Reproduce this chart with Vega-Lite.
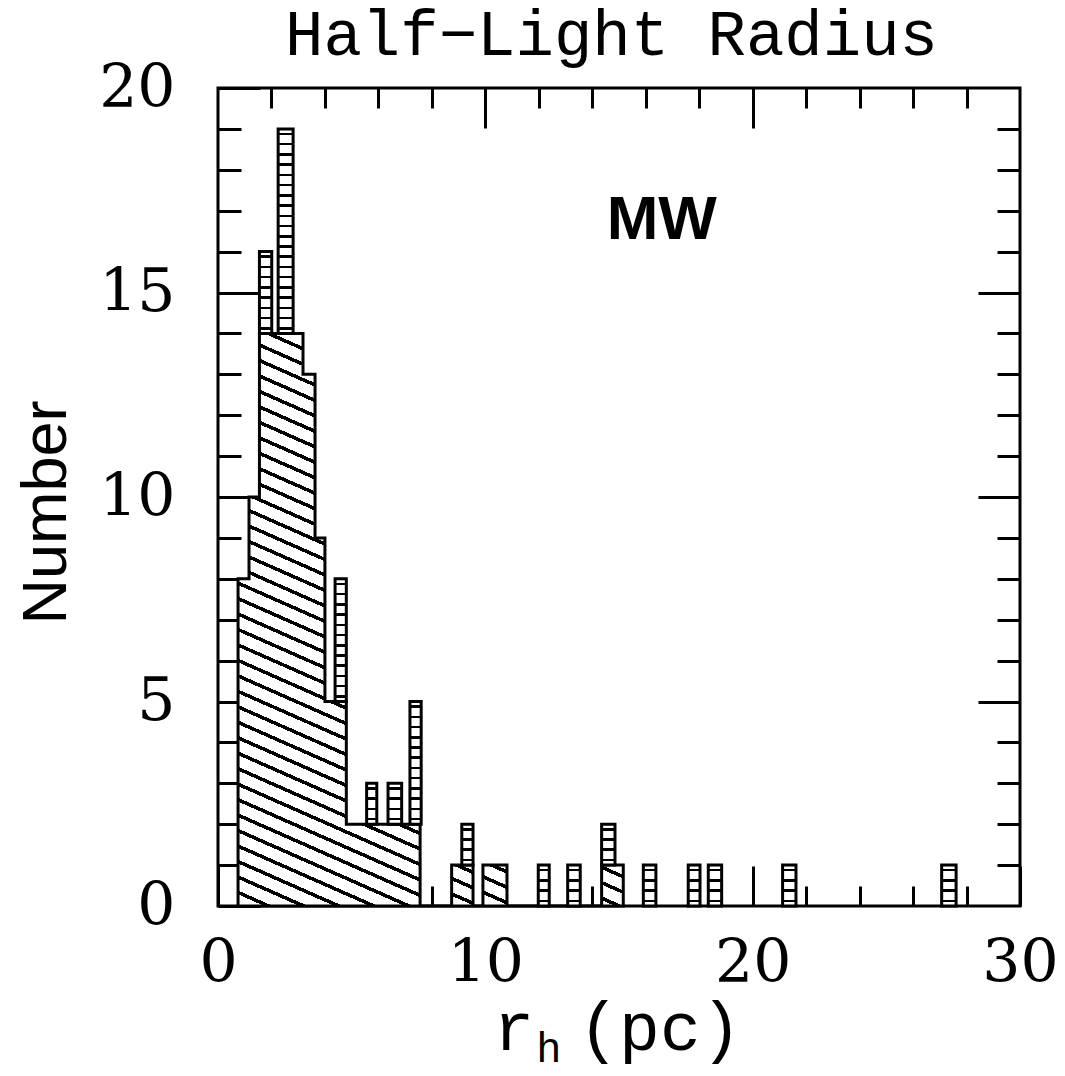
{
"$schema": "https://vega.github.io/schema/vega-lite/v6.json",
"width": 802, "height": 818,
"autosize": {"type": "none"},
"padding": {"left": 218, "top": 88, "right": 45, "bottom": 170},
"background": "white",
"config": {"view": {"stroke": "black", "strokeWidth": 3}, "axis": {"grid": false, "domain": false, "tickColor": "black", "tickWidth": 3, "labelColor": "black", "titleColor": "black", "labelFlush": false, "labelOverlap": false, "labelBound": false}},
"datasets": {
"diag": [
{"edge": 0.75, "n": 8}, {"edge": 1.16, "n": 10}, {"edge": 1.55, "n": 14}, {"edge": 3.18, "n": 13}, {"edge": 3.63, "n": 9}, {"edge": 4.0, "n": 5}, {"edge": 4.8, "n": 2}, {"edge": 7.56, "n": 0}, {"edge": 8.74, "n": 1}, {"edge": 9.54, "n": 0}, {"edge": 9.91, "n": 1}, {"edge": 10.81, "n": 0}, {"edge": 14.35, "n": 1}, {"edge": 15.16, "n": 0}
],
"ladder": [
{"x0": 1.55, "x1": 2.01, "lo": 14, "hi": 16},
{"x0": 2.25, "x1": 2.81, "lo": 14, "hi": 19},
{"x0": 4.38, "x1": 4.8, "lo": 5, "hi": 8},
{"x0": 5.56, "x1": 5.94, "lo": 2, "hi": 3},
{"x0": 6.36, "x1": 6.87, "lo": 2, "hi": 3},
{"x0": 7.18, "x1": 7.6, "lo": 2, "hi": 5},
{"x0": 9.12, "x1": 9.54, "lo": 1, "hi": 2},
{"x0": 11.98, "x1": 12.39, "lo": 0, "hi": 1},
{"x0": 13.08, "x1": 13.55, "lo": 0, "hi": 1},
{"x0": 14.35, "x1": 14.85, "lo": 1, "hi": 2},
{"x0": 15.91, "x1": 16.38, "lo": 0, "hi": 1},
{"x0": 17.59, "x1": 18.03, "lo": 0, "hi": 1},
{"x0": 18.34, "x1": 18.84, "lo": 0, "hi": 1},
{"x0": 21.12, "x1": 21.62, "lo": 0, "hi": 1},
{"x0": 27.07, "x1": 27.61, "lo": 0, "hi": 1}
],
"labels": [
{"label": "Half−Light Radius", "px": 14.72, "py": 20.81, "size": "title"},
{"label": "r", "px": 11.07, "py": -3.52, "size": "axis"},
{"label": "(pc)", "px": 16.53, "py": -3.52, "size": "axis"}
]
},
"resolve": {"axis": {"x": "independent", "y": "independent"}},
"layer": [
{
"data": {"name": "diag"},
"mark": {"type": "area", "interpolate": "step-after", "stroke": "black", "strokeWidth": 3, "fill": {"gradient": "linear", "x1": 1, "y1": 0, "x2": 0.6463, "y2": 1.1918, "stops": [
{"offset":0,"color":"#000"},{"offset":0.005208,"color":"#000"},{"offset":0.005208,"color":"#fff"},
{"offset":0.020833,"color":"#fff"},{"offset":0.020833,"color":"#000"},{"offset":0.026041,"color":"#000"},{"offset":0.026041,"color":"#fff"},
{"offset":0.041667,"color":"#fff"},{"offset":0.041667,"color":"#000"},{"offset":0.046875,"color":"#000"},{"offset":0.046875,"color":"#fff"},
{"offset":0.0625,"color":"#fff"},{"offset":0.0625,"color":"#000"},{"offset":0.067708,"color":"#000"},{"offset":0.067708,"color":"#fff"},
{"offset":0.083333,"color":"#fff"},{"offset":0.083333,"color":"#000"},{"offset":0.088541,"color":"#000"},{"offset":0.088541,"color":"#fff"},
{"offset":0.104167,"color":"#fff"},{"offset":0.104167,"color":"#000"},{"offset":0.109375,"color":"#000"},{"offset":0.109375,"color":"#fff"},
{"offset":0.125,"color":"#fff"},{"offset":0.125,"color":"#000"},{"offset":0.130208,"color":"#000"},{"offset":0.130208,"color":"#fff"},
{"offset":0.145833,"color":"#fff"},{"offset":0.145833,"color":"#000"},{"offset":0.151041,"color":"#000"},{"offset":0.151041,"color":"#fff"},
{"offset":0.166667,"color":"#fff"},{"offset":0.166667,"color":"#000"},{"offset":0.171875,"color":"#000"},{"offset":0.171875,"color":"#fff"},
{"offset":0.1875,"color":"#fff"},{"offset":0.1875,"color":"#000"},{"offset":0.192708,"color":"#000"},{"offset":0.192708,"color":"#fff"},
{"offset":0.208333,"color":"#fff"},{"offset":0.208333,"color":"#000"},{"offset":0.213541,"color":"#000"},{"offset":0.213541,"color":"#fff"},
{"offset":0.229167,"color":"#fff"},{"offset":0.229167,"color":"#000"},{"offset":0.234375,"color":"#000"},{"offset":0.234375,"color":"#fff"},
{"offset":0.25,"color":"#fff"},{"offset":0.25,"color":"#000"},{"offset":0.255208,"color":"#000"},{"offset":0.255208,"color":"#fff"},
{"offset":0.270833,"color":"#fff"},{"offset":0.270833,"color":"#000"},{"offset":0.276041,"color":"#000"},{"offset":0.276041,"color":"#fff"},
{"offset":0.291667,"color":"#fff"},{"offset":0.291667,"color":"#000"},{"offset":0.296875,"color":"#000"},{"offset":0.296875,"color":"#fff"},
{"offset":0.3125,"color":"#fff"},{"offset":0.3125,"color":"#000"},{"offset":0.317708,"color":"#000"},{"offset":0.317708,"color":"#fff"},
{"offset":0.333333,"color":"#fff"},{"offset":0.333333,"color":"#000"},{"offset":0.338541,"color":"#000"},{"offset":0.338541,"color":"#fff"},
{"offset":0.354167,"color":"#fff"},{"offset":0.354167,"color":"#000"},{"offset":0.359375,"color":"#000"},{"offset":0.359375,"color":"#fff"},
{"offset":0.375,"color":"#fff"},{"offset":0.375,"color":"#000"},{"offset":0.380208,"color":"#000"},{"offset":0.380208,"color":"#fff"},
{"offset":0.395833,"color":"#fff"},{"offset":0.395833,"color":"#000"},{"offset":0.401041,"color":"#000"},{"offset":0.401041,"color":"#fff"},
{"offset":0.416667,"color":"#fff"},{"offset":0.416667,"color":"#000"},{"offset":0.421875,"color":"#000"},{"offset":0.421875,"color":"#fff"},
{"offset":0.4375,"color":"#fff"},{"offset":0.4375,"color":"#000"},{"offset":0.442708,"color":"#000"},{"offset":0.442708,"color":"#fff"},
{"offset":0.458333,"color":"#fff"},{"offset":0.458333,"color":"#000"},{"offset":0.463541,"color":"#000"},{"offset":0.463541,"color":"#fff"},
{"offset":0.479167,"color":"#fff"},{"offset":0.479167,"color":"#000"},{"offset":0.484375,"color":"#000"},{"offset":0.484375,"color":"#fff"},
{"offset":0.5,"color":"#fff"},{"offset":0.5,"color":"#000"},{"offset":0.505208,"color":"#000"},{"offset":0.505208,"color":"#fff"},
{"offset":0.520833,"color":"#fff"},{"offset":0.520833,"color":"#000"},{"offset":0.526041,"color":"#000"},{"offset":0.526041,"color":"#fff"},
{"offset":0.541667,"color":"#fff"},{"offset":0.541667,"color":"#000"},{"offset":0.546875,"color":"#000"},{"offset":0.546875,"color":"#fff"},
{"offset":0.5625,"color":"#fff"},{"offset":0.5625,"color":"#000"},{"offset":0.567708,"color":"#000"},{"offset":0.567708,"color":"#fff"},
{"offset":0.583333,"color":"#fff"},{"offset":0.583333,"color":"#000"},{"offset":0.588541,"color":"#000"},{"offset":0.588541,"color":"#fff"},
{"offset":0.604167,"color":"#fff"},{"offset":0.604167,"color":"#000"},{"offset":0.609375,"color":"#000"},{"offset":0.609375,"color":"#fff"},
{"offset":0.625,"color":"#fff"},{"offset":0.625,"color":"#000"},{"offset":0.630208,"color":"#000"},{"offset":0.630208,"color":"#fff"},
{"offset":0.645833,"color":"#fff"},{"offset":0.645833,"color":"#000"},{"offset":0.651041,"color":"#000"},{"offset":0.651041,"color":"#fff"},
{"offset":0.666667,"color":"#fff"},{"offset":0.666667,"color":"#000"},{"offset":0.671875,"color":"#000"},{"offset":0.671875,"color":"#fff"},
{"offset":0.6875,"color":"#fff"},{"offset":0.6875,"color":"#000"},{"offset":0.692708,"color":"#000"},{"offset":0.692708,"color":"#fff"},
{"offset":0.708333,"color":"#fff"},{"offset":0.708333,"color":"#000"},{"offset":0.713541,"color":"#000"},{"offset":0.713541,"color":"#fff"},
{"offset":0.729167,"color":"#fff"},{"offset":0.729167,"color":"#000"},{"offset":0.734375,"color":"#000"},{"offset":0.734375,"color":"#fff"},
{"offset":0.75,"color":"#fff"},{"offset":0.75,"color":"#000"},{"offset":0.755208,"color":"#000"},{"offset":0.755208,"color":"#fff"},
{"offset":0.770833,"color":"#fff"},{"offset":0.770833,"color":"#000"},{"offset":0.776041,"color":"#000"},{"offset":0.776041,"color":"#fff"},
{"offset":0.791667,"color":"#fff"},{"offset":0.791667,"color":"#000"},{"offset":0.796875,"color":"#000"},{"offset":0.796875,"color":"#fff"},
{"offset":0.8125,"color":"#fff"},{"offset":0.8125,"color":"#000"},{"offset":0.817708,"color":"#000"},{"offset":0.817708,"color":"#fff"},
{"offset":0.833333,"color":"#fff"},{"offset":0.833333,"color":"#000"},{"offset":0.838541,"color":"#000"},{"offset":0.838541,"color":"#fff"},
{"offset":0.854167,"color":"#fff"},{"offset":0.854167,"color":"#000"},{"offset":0.859375,"color":"#000"},{"offset":0.859375,"color":"#fff"},
{"offset":0.875,"color":"#fff"},{"offset":0.875,"color":"#000"},{"offset":0.880208,"color":"#000"},{"offset":0.880208,"color":"#fff"},
{"offset":0.895833,"color":"#fff"},{"offset":0.895833,"color":"#000"},{"offset":0.901041,"color":"#000"},{"offset":0.901041,"color":"#fff"},
{"offset":0.916667,"color":"#fff"},{"offset":0.916667,"color":"#000"},{"offset":0.921875,"color":"#000"},{"offset":0.921875,"color":"#fff"},
{"offset":0.9375,"color":"#fff"},{"offset":0.9375,"color":"#000"},{"offset":0.942708,"color":"#000"},{"offset":0.942708,"color":"#fff"},
{"offset":0.958333,"color":"#fff"},{"offset":0.958333,"color":"#000"},{"offset":0.963541,"color":"#000"},{"offset":0.963541,"color":"#fff"},
{"offset":0.979167,"color":"#fff"},{"offset":0.979167,"color":"#000"},{"offset":0.984375,"color":"#000"},{"offset":0.984375,"color":"#fff"},
{"offset":1,"color":"#fff"}
]}},
"encoding": {
"x": {"field": "edge", "type": "quantitative", "scale": {"domain": [0, 30], "nice": false, "zero": false},
 "axis": {"orient": "bottom", "values": [0, 10, 20, 30], "tickSize": -40, "labelFont": "DejaVu Serif", "labelFontSize": 60, "labelPadding": 68, "title": null}},
"y": {"field": "n", "type": "quantitative", "scale": {"domain": [0, 20], "nice": false},
 "axis": {"orient": "left", "values": [0, 5, 10, 15, 20], "tickSize": -42, "labelFont": "DejaVu Serif", "labelFontSize": 60, "labelPadding": 85,
  "title": "Number", "titleFont": "Liberation Sans", "titleFontSize": 63, "titleFontWeight": "normal", "titleAngle": -90, "titleBaseline": "alphabetic", "titleAlign": "center", "titleX": -153, "titleY": 424}}
}
},
{
"data": {"name": "ladder"},
"transform": [{"filter": "datum.hi - datum.lo == 1"}],
"mark": {"type": "bar", "stroke": "black", "strokeWidth": 3, "fill": {"gradient": "linear", "x1": 0, "y1": 0, "x2": 0, "y2": 1, "stops": [
{"offset":0,"color":"#fff"},
{"offset":0.09375,"color":"#fff"},{"offset":0.09375,"color":"#000"},{"offset":0.15625,"color":"#000"},{"offset":0.15625,"color":"#fff"},
{"offset":0.34375,"color":"#fff"},{"offset":0.34375,"color":"#000"},{"offset":0.40625,"color":"#000"},{"offset":0.40625,"color":"#fff"},
{"offset":0.59375,"color":"#fff"},{"offset":0.59375,"color":"#000"},{"offset":0.65625,"color":"#000"},{"offset":0.65625,"color":"#fff"},
{"offset":0.84375,"color":"#fff"},{"offset":0.84375,"color":"#000"},{"offset":0.90625,"color":"#000"},{"offset":0.90625,"color":"#fff"},
{"offset":1,"color":"#fff"}
]}},
"encoding": {
"x": {"field": "x0", "type": "quantitative", "scale": {"domain": [0, 30], "nice": false, "zero": false},
 "axis": {"orient": "bottom", "values": [2, 4, 6, 8, 12, 14, 16, 18, 22, 24, 26, 28], "tickSize": -20, "labels": false, "title": null}},
"x2": {"field": "x1"},
"y": {"field": "lo", "type": "quantitative", "scale": {"domain": [0, 20], "nice": false},
 "axis": {"orient": "left", "values": [1, 2, 3, 4, 6, 7, 8, 9, 11, 12, 13, 14, 16, 17, 18, 19], "tickSize": -23, "labels": false, "title": null}},
"y2": {"field": "hi"}
}
},
{
"data": {"name": "ladder"},
"transform": [{"filter": "datum.hi - datum.lo == 2"}],
"mark": {"type": "bar", "stroke": "black", "strokeWidth": 3, "fill": {"gradient": "linear", "x1": 0, "y1": 0, "x2": 0, "y2": 1, "stops": [
{"offset":0,"color":"#fff"},
{"offset":0.0472,"color":"#fff"},{"offset":0.0472,"color":"#000"},{"offset":0.0778,"color":"#000"},{"offset":0.0778,"color":"#fff"},
{"offset":0.1722,"color":"#fff"},{"offset":0.1722,"color":"#000"},{"offset":0.2028,"color":"#000"},{"offset":0.2028,"color":"#fff"},
{"offset":0.2972,"color":"#fff"},{"offset":0.2972,"color":"#000"},{"offset":0.3278,"color":"#000"},{"offset":0.3278,"color":"#fff"},
{"offset":0.4222,"color":"#fff"},{"offset":0.4222,"color":"#000"},{"offset":0.4528,"color":"#000"},{"offset":0.4528,"color":"#fff"},
{"offset":0.5472,"color":"#fff"},{"offset":0.5472,"color":"#000"},{"offset":0.5778,"color":"#000"},{"offset":0.5778,"color":"#fff"},
{"offset":0.6722,"color":"#fff"},{"offset":0.6722,"color":"#000"},{"offset":0.7028,"color":"#000"},{"offset":0.7028,"color":"#fff"},
{"offset":0.7972,"color":"#fff"},{"offset":0.7972,"color":"#000"},{"offset":0.8278,"color":"#000"},{"offset":0.8278,"color":"#fff"},
{"offset":0.9222,"color":"#fff"},{"offset":0.9222,"color":"#000"},{"offset":0.9528,"color":"#000"},{"offset":0.9528,"color":"#fff"},
{"offset":1,"color":"#fff"}
]}},
"encoding": {
"x": {"field": "x0", "type": "quantitative", "scale": {"domain": [0, 30], "nice": false, "zero": false},
 "axis": {"orient": "top", "values": [10, 20], "tickSize": -40, "labels": false, "title": null}},
"x2": {"field": "x1"},
"y": {"field": "lo", "type": "quantitative", "scale": {"domain": [0, 20], "nice": false},
 "axis": {"orient": "right", "values": [5, 10, 15], "tickSize": -42, "labels": false, "title": null}},
"y2": {"field": "hi"}
}
},
{
"data": {"name": "ladder"},
"transform": [{"filter": "datum.hi - datum.lo == 3"}],
"mark": {"type": "bar", "stroke": "black", "strokeWidth": 3, "fill": {"gradient": "linear", "x1": 0, "y1": 0, "x2": 0, "y2": 1, "stops": [
{"offset":0,"color":"#fff"},
{"offset":0.0315,"color":"#fff"},{"offset":0.0315,"color":"#000"},{"offset":0.0519,"color":"#000"},{"offset":0.0519,"color":"#fff"},
{"offset":0.1148,"color":"#fff"},{"offset":0.1148,"color":"#000"},{"offset":0.1352,"color":"#000"},{"offset":0.1352,"color":"#fff"},
{"offset":0.1981,"color":"#fff"},{"offset":0.1981,"color":"#000"},{"offset":0.2185,"color":"#000"},{"offset":0.2185,"color":"#fff"},
{"offset":0.2815,"color":"#fff"},{"offset":0.2815,"color":"#000"},{"offset":0.3019,"color":"#000"},{"offset":0.3019,"color":"#fff"},
{"offset":0.3648,"color":"#fff"},{"offset":0.3648,"color":"#000"},{"offset":0.3852,"color":"#000"},{"offset":0.3852,"color":"#fff"},
{"offset":0.4481,"color":"#fff"},{"offset":0.4481,"color":"#000"},{"offset":0.4685,"color":"#000"},{"offset":0.4685,"color":"#fff"},
{"offset":0.5315,"color":"#fff"},{"offset":0.5315,"color":"#000"},{"offset":0.5519,"color":"#000"},{"offset":0.5519,"color":"#fff"},
{"offset":0.6148,"color":"#fff"},{"offset":0.6148,"color":"#000"},{"offset":0.6352,"color":"#000"},{"offset":0.6352,"color":"#fff"},
{"offset":0.6981,"color":"#fff"},{"offset":0.6981,"color":"#000"},{"offset":0.7185,"color":"#000"},{"offset":0.7185,"color":"#fff"},
{"offset":0.7815,"color":"#fff"},{"offset":0.7815,"color":"#000"},{"offset":0.8019,"color":"#000"},{"offset":0.8019,"color":"#fff"},
{"offset":0.8648,"color":"#fff"},{"offset":0.8648,"color":"#000"},{"offset":0.8852,"color":"#000"},{"offset":0.8852,"color":"#fff"},
{"offset":0.9481,"color":"#fff"},{"offset":0.9481,"color":"#000"},{"offset":0.9685,"color":"#000"},{"offset":0.9685,"color":"#fff"},
{"offset":1,"color":"#fff"}
]}},
"encoding": {
"x": {"field": "x0", "type": "quantitative", "scale": {"domain": [0, 30], "nice": false, "zero": false},
 "axis": {"orient": "top", "values": [2, 4, 6, 8, 12, 14, 16, 18, 22, 24, 26, 28], "tickSize": -20, "labels": false, "title": null}},
"x2": {"field": "x1"},
"y": {"field": "lo", "type": "quantitative", "scale": {"domain": [0, 20], "nice": false},
 "axis": {"orient": "right", "values": [1, 2, 3, 4, 6, 7, 8, 9, 11, 12, 13, 14, 16, 17, 18, 19], "tickSize": -23, "labels": false, "title": null}},
"y2": {"field": "hi"}
}
},
{
"data": {"name": "ladder"},
"transform": [{"filter": "datum.hi - datum.lo == 5"}],
"mark": {"type": "bar", "stroke": "black", "strokeWidth": 3, "fill": {"gradient": "linear", "x1": 0, "y1": 0, "x2": 0, "y2": 1, "stops": [
{"offset":0,"color":"#fff"},
{"offset":0.0189,"color":"#fff"},{"offset":0.0189,"color":"#000"},{"offset":0.0311,"color":"#000"},{"offset":0.0311,"color":"#fff"},
{"offset":0.0689,"color":"#fff"},{"offset":0.0689,"color":"#000"},{"offset":0.0811,"color":"#000"},{"offset":0.0811,"color":"#fff"},
{"offset":0.1189,"color":"#fff"},{"offset":0.1189,"color":"#000"},{"offset":0.1311,"color":"#000"},{"offset":0.1311,"color":"#fff"},
{"offset":0.1689,"color":"#fff"},{"offset":0.1689,"color":"#000"},{"offset":0.1811,"color":"#000"},{"offset":0.1811,"color":"#fff"},
{"offset":0.2189,"color":"#fff"},{"offset":0.2189,"color":"#000"},{"offset":0.2311,"color":"#000"},{"offset":0.2311,"color":"#fff"},
{"offset":0.2689,"color":"#fff"},{"offset":0.2689,"color":"#000"},{"offset":0.2811,"color":"#000"},{"offset":0.2811,"color":"#fff"},
{"offset":0.3189,"color":"#fff"},{"offset":0.3189,"color":"#000"},{"offset":0.3311,"color":"#000"},{"offset":0.3311,"color":"#fff"},
{"offset":0.3689,"color":"#fff"},{"offset":0.3689,"color":"#000"},{"offset":0.3811,"color":"#000"},{"offset":0.3811,"color":"#fff"},
{"offset":0.4189,"color":"#fff"},{"offset":0.4189,"color":"#000"},{"offset":0.4311,"color":"#000"},{"offset":0.4311,"color":"#fff"},
{"offset":0.4689,"color":"#fff"},{"offset":0.4689,"color":"#000"},{"offset":0.4811,"color":"#000"},{"offset":0.4811,"color":"#fff"},
{"offset":0.5189,"color":"#fff"},{"offset":0.5189,"color":"#000"},{"offset":0.5311,"color":"#000"},{"offset":0.5311,"color":"#fff"},
{"offset":0.5689,"color":"#fff"},{"offset":0.5689,"color":"#000"},{"offset":0.5811,"color":"#000"},{"offset":0.5811,"color":"#fff"},
{"offset":0.6189,"color":"#fff"},{"offset":0.6189,"color":"#000"},{"offset":0.6311,"color":"#000"},{"offset":0.6311,"color":"#fff"},
{"offset":0.6689,"color":"#fff"},{"offset":0.6689,"color":"#000"},{"offset":0.6811,"color":"#000"},{"offset":0.6811,"color":"#fff"},
{"offset":0.7189,"color":"#fff"},{"offset":0.7189,"color":"#000"},{"offset":0.7311,"color":"#000"},{"offset":0.7311,"color":"#fff"},
{"offset":0.7689,"color":"#fff"},{"offset":0.7689,"color":"#000"},{"offset":0.7811,"color":"#000"},{"offset":0.7811,"color":"#fff"},
{"offset":0.8189,"color":"#fff"},{"offset":0.8189,"color":"#000"},{"offset":0.8311,"color":"#000"},{"offset":0.8311,"color":"#fff"},
{"offset":0.8689,"color":"#fff"},{"offset":0.8689,"color":"#000"},{"offset":0.8811,"color":"#000"},{"offset":0.8811,"color":"#fff"},
{"offset":0.9189,"color":"#fff"},{"offset":0.9189,"color":"#000"},{"offset":0.9311,"color":"#000"},{"offset":0.9311,"color":"#fff"},
{"offset":0.9689,"color":"#fff"},{"offset":0.9689,"color":"#000"},{"offset":0.9811,"color":"#000"},{"offset":0.9811,"color":"#fff"},
{"offset":1,"color":"#fff"}
]}},
"encoding": {
"x": {"field": "x0", "type": "quantitative", "scale": {"domain": [0, 30], "nice": false, "zero": false}, "axis": null},
"x2": {"field": "x1"},
"y": {"field": "lo", "type": "quantitative", "scale": {"domain": [0, 20], "nice": false}, "axis": null},
"y2": {"field": "hi"}
}
},
{
"data": {"values": [{"label": "MW", "px": 16.6, "py": 16.3}]},
"mark": {"type": "text", "font": "Liberation Sans", "fontSize": 62, "fontWeight": "bold", "align": "center", "baseline": "alphabetic", "color": "black"},
"encoding": {
"x": {"field": "px", "type": "quantitative", "scale": {"domain": [0, 30], "nice": false, "zero": false}, "axis": null},
"y": {"field": "py", "type": "quantitative", "scale": {"domain": [0, 20], "nice": false}, "axis": null},
"text": {"field": "label"}
}
},
{
"data": {"name": "labels"},
"transform": [{"filter": "datum.size == 'title'"}],
"mark": {"type": "text", "font": "Liberation Mono", "fontSize": 64, "align": "center", "baseline": "alphabetic", "color": "black", "clip": false},
"encoding": {
"x": {"field": "px", "type": "quantitative", "scale": {"domain": [0, 30], "nice": false, "zero": false}, "axis": null},
"y": {"field": "py", "type": "quantitative", "scale": {"domain": [0, 20], "nice": false}, "axis": null},
"text": {"field": "label"}
}
},
{
"data": {"name": "labels"},
"transform": [{"filter": "datum.size == 'axis'"}],
"mark": {"type": "text", "font": "Liberation Mono", "fontSize": 68, "align": "center", "baseline": "alphabetic", "color": "black", "clip": false},
"encoding": {
"x": {"field": "px", "type": "quantitative", "scale": {"domain": [0, 30], "nice": false, "zero": false}, "axis": null},
"y": {"field": "py", "type": "quantitative", "scale": {"domain": [0, 20], "nice": false}, "axis": null},
"text": {"field": "label"}
}
},
{
"data": {"values": [{"label": "h", "px": 12.38, "py": -3.81}]},
"mark": {"type": "text", "font": "Liberation Mono", "fontSize": 42, "align": "center", "baseline": "alphabetic", "color": "black", "clip": false},
"encoding": {
"x": {"field": "px", "type": "quantitative", "scale": {"domain": [0, 30], "nice": false, "zero": false}, "axis": null},
"y": {"field": "py", "type": "quantitative", "scale": {"domain": [0, 20], "nice": false}, "axis": null},
"text": {"field": "label"}
}
}
]
}
